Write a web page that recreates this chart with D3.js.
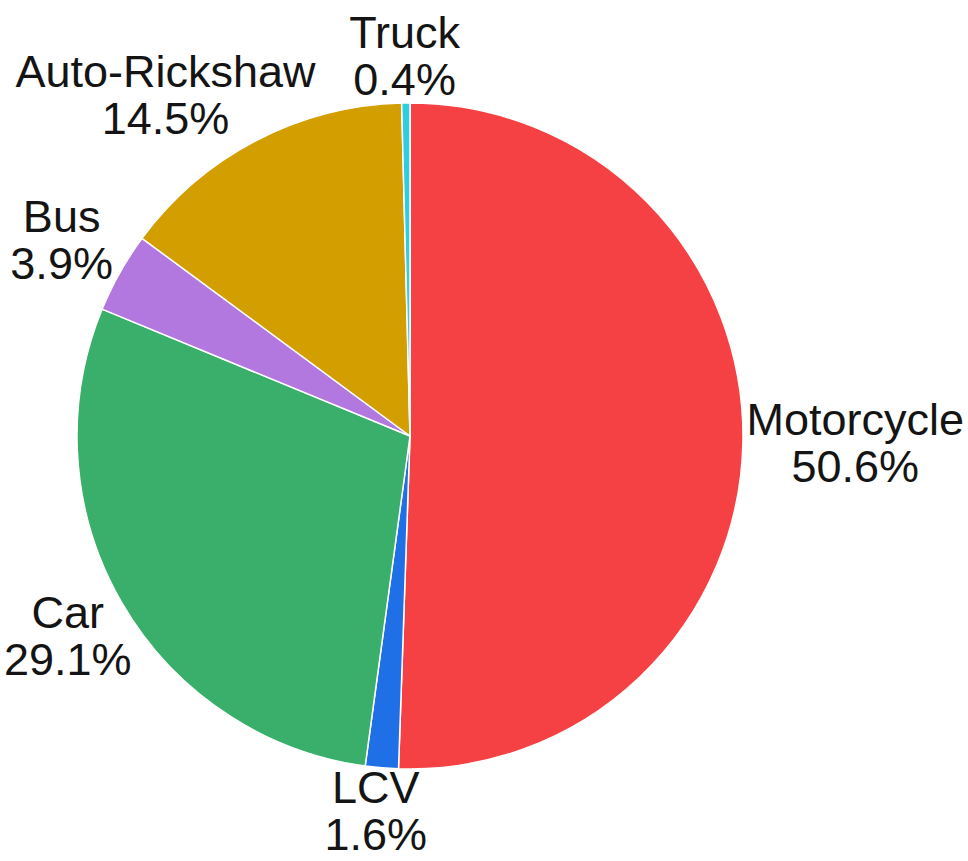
<!DOCTYPE html>
<html>
<head>
<meta charset="utf-8">
<script src="https://cdn.jsdelivr.net/npm/d3@7"></script>
<style>
  body { margin: 0; background: #fff; }
  .label { font-family: "Liberation Sans", Arial, sans-serif; font-size: 45px; fill: #141414; }
</style>
</head>
<body>
<div id="chart"></div>
<script>
// slices, clockwise from 12 o'clock
var categories = ["Motorcycle", "LCV", "Car", "Bus", "Auto-Rickshaw", "Truck"];
var shares = [50.6, 1.6, 29.1, 3.9, 14.5, 0.4];
var colors = ["#f54144", "#1f6fe6", "#3aaf6c", "#b278e0", "#d39e00", "#2ccfdf"];

var width = 968, height = 861;
var cx = 410, cy = 436, radius = 333;

var data = categories.map((c, i) => ({name: c, value: shares[i], color: colors[i]}));

var svg = d3.select("#chart").append("svg")
    .attr("width", width)
    .attr("height", height);

var g = svg.append("g")
    .attr("transform", `translate(${cx}, ${cy})`);

var pie = d3.pie()
    .value(d => d.value)
    .sort(null);

var arc = d3.arc()
    .innerRadius(0)
    .outerRadius(radius);

var arcs = pie(data);

g.selectAll(".slice")
    .data(arcs)
    .enter()
    .append("path")
    .attr("class", "slice")
    .attr("d", arc)
    .attr("fill", d => d.data.color)
    .attr("stroke", "#fff")
    .attr("stroke-width", 1.5);

var fmt = d => d3.format(".1f")(d) + "%";
var lineH = 47;
var capH = 32;
var gap = 8;

var labels = g.selectAll(".label")
    .data(arcs)
    .enter()
    .append("text")
    .attr("class", "label")
    .attr("text-anchor", "middle");

labels.append("tspan")
    .attr("x", 0)
    .attr("dy", 0)
    .text(d => d.data.name);
labels.append("tspan")
    .attr("x", 0)
    .attr("dy", lineH)
    .text(d => fmt(d.data.value));

// hang each label box off the point just outside the rim at the slice's mid angle
var clamp = v => Math.max(-1, Math.min(1, v));
labels.each(function(d) {
  var bb = this.getBBox();
  var halfW = bb.width / 2;
  var halfH = (lineH + capH) / 2;
  var a = (d.startAngle + d.endAngle) / 2;
  var dx = Math.sin(a), dy = -Math.cos(a);
  var px = dx * (radius + gap), py = dy * (radius + gap);
  var mx = px + halfW * clamp(dx * 1.25);
  var my = py + halfH * clamp(dy * 1.5);
  // keep the box on the page (leave room for descenders at the bottom)
  mx = Math.max(-cx + halfW + 4, Math.min(width - cx - halfW - 4, mx));
  my = Math.max(-cy + halfH + 4, Math.min(height - cy - halfH - 11, my));
  var x = mx - (bb.x + halfW);
  var y = my - (lineH - capH) / 2;
  d3.select(this).attr("transform", `translate(${x}, ${y})`);
});
</script>
</body>
</html>
